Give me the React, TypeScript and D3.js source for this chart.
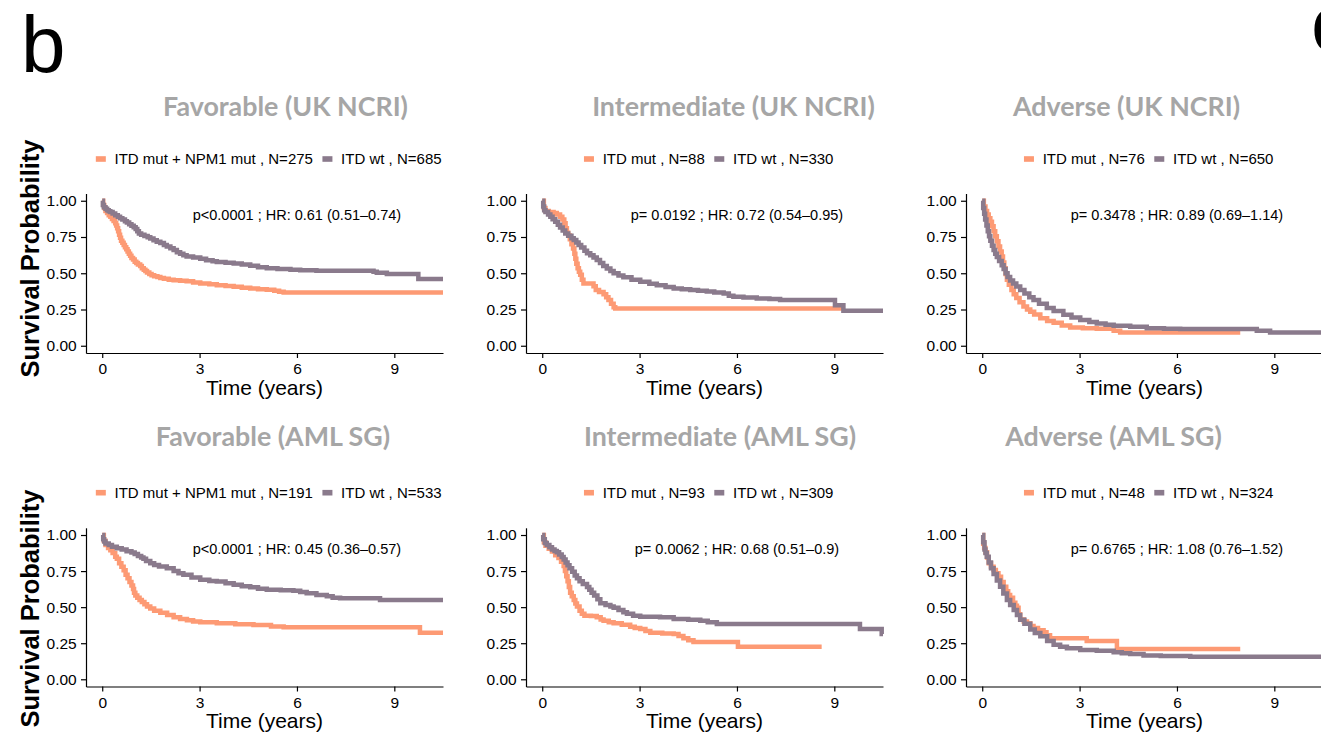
import React, { useEffect, useRef } from "react";
import * as d3 from "d3";

// ---------- data ----------
const panelTitles = [
  "Favorable (UK NCRI)",
  "Intermediate (UK NCRI)",
  "Adverse (UK NCRI)",
  "Favorable (AML SG)",
  "Intermediate (AML SG)",
  "Adverse (AML SG)",
];
const mutLabels = [
  "ITD mut + NPM1 mut , N=275",
  "ITD mut , N=88",
  "ITD mut , N=76",
  "ITD mut + NPM1 mut , N=191",
  "ITD mut , N=93",
  "ITD mut , N=48",
];
const wtLabels = [
  "ITD wt , N=685",
  "ITD wt , N=330",
  "ITD wt , N=650",
  "ITD wt , N=533",
  "ITD wt , N=309",
  "ITD wt , N=324",
];
const statLabels = [
  "p<0.0001 ; HR: 0.61 (0.51\u20130.74)",
  "p= 0.0192 ; HR: 0.72 (0.54\u20130.95)",
  "p= 0.3478 ; HR: 0.89 (0.69\u20131.14)",
  "p<0.0001 ; HR: 0.45 (0.36\u20130.57)",
  "p= 0.0062 ; HR: 0.68 (0.51\u20130.9)",
  "p= 0.6765 ; HR: 1.08 (0.76\u20131.52)",
];
const xTicks = [0, 3, 6, 9];
const yTicks = [0, 0.25, 0.5, 0.75, 1];
const xTitle = "Time (years)";
const yTitle = "Survival Probability";

// Kaplan-Meier curves: [time (years), survival probability]
const favUkMut: [number, number][] = [
  [0, 1], [0.03, 0.97], [0.06, 0.95], [0.1, 0.93], [0.15, 0.915], [0.2, 0.9], [0.25, 0.89],
  [0.3, 0.875], [0.35, 0.86], [0.4, 0.845], [0.43, 0.83], [0.46, 0.81], [0.49, 0.79],
  [0.52, 0.765], [0.55, 0.745], [0.58, 0.725], [0.62, 0.71], [0.66, 0.695], [0.7, 0.68],
  [0.74, 0.665], [0.78, 0.65], [0.82, 0.635], [0.86, 0.62], [0.9, 0.605], [0.95, 0.595],
  [1.0, 0.58], [1.05, 0.57], [1.1, 0.56], [1.17, 0.55], [1.22, 0.535], [1.28, 0.525],
  [1.33, 0.515], [1.38, 0.505], [1.45, 0.495], [1.52, 0.487], [1.6, 0.48], [1.7, 0.475],
  [1.79, 0.468], [1.9, 0.462], [2.05, 0.456], [2.2, 0.452], [2.4, 0.449], [2.6, 0.445],
  [2.8, 0.437], [3.02, 0.43], [3.3, 0.424], [3.53, 0.418], [3.8, 0.412], [4.05, 0.407],
  [4.3, 0.4], [4.56, 0.395], [4.8, 0.39], [5.07, 0.386], [5.3, 0.38], [5.45, 0.372],
  [5.59, 0.368], [10.5, 0.368],
];
const favUkWt: [number, number][] = [
  [0, 1], [0.02, 0.97], [0.05, 0.955], [0.1, 0.945], [0.15, 0.935], [0.2, 0.928],
  [0.25, 0.922], [0.32, 0.912], [0.4, 0.9], [0.48, 0.89], [0.55, 0.88], [0.62, 0.87],
  [0.7, 0.858], [0.76, 0.85], [0.83, 0.838], [0.9, 0.828], [0.97, 0.818], [1.03, 0.805],
  [1.08, 0.79], [1.13, 0.775], [1.2, 0.765], [1.3, 0.757], [1.4, 0.748], [1.48, 0.74],
  [1.58, 0.728], [1.68, 0.718], [1.79, 0.708], [1.9, 0.695], [1.99, 0.685], [2.1, 0.672],
  [2.2, 0.66], [2.3, 0.645], [2.4, 0.635], [2.5, 0.625], [2.6, 0.615], [2.8, 0.608],
  [3.02, 0.6], [3.2, 0.59], [3.4, 0.582], [3.53, 0.578], [3.8, 0.572], [4.05, 0.568],
  [4.3, 0.56], [4.56, 0.552], [4.8, 0.542], [5.07, 0.535], [5.4, 0.53], [5.8, 0.525],
  [6.1, 0.521], [6.6, 0.518], [7.13, 0.517], [8.25, 0.517], [8.36, 0.51], [8.46, 0.503],
  [8.77, 0.494], [9.69, 0.494], [9.74, 0.46], [10.5, 0.46],
];
const intUkMut: [number, number][] = [
  [0, 1], [0.05, 0.95], [0.1, 0.93], [0.2, 0.922], [0.35, 0.915], [0.45, 0.905],
  [0.55, 0.89], [0.62, 0.87], [0.68, 0.845], [0.72, 0.81], [0.76, 0.78], [0.8, 0.76],
  [0.85, 0.735], [0.9, 0.7], [0.95, 0.67], [0.99, 0.635], [1.02, 0.6], [1.05, 0.565],
  [1.09, 0.535], [1.13, 0.51], [1.17, 0.49], [1.22, 0.455], [1.27, 0.43], [1.5, 0.43],
  [1.58, 0.41], [1.65, 0.385], [1.75, 0.37], [1.89, 0.355], [1.97, 0.335], [2.04, 0.315],
  [2.12, 0.29], [2.2, 0.265], [2.25, 0.257], [9.33, 0.257],
];
const intUkWt: [number, number][] = [
  [0, 1], [0.03, 0.96], [0.06, 0.935], [0.1, 0.922], [0.18, 0.905], [0.25, 0.89],
  [0.32, 0.872], [0.4, 0.855], [0.48, 0.835], [0.55, 0.815], [0.63, 0.795], [0.71, 0.775],
  [0.8, 0.758], [0.9, 0.742], [0.97, 0.73], [1.05, 0.712], [1.12, 0.695], [1.2, 0.678],
  [1.3, 0.655], [1.38, 0.638], [1.48, 0.625], [1.58, 0.608], [1.68, 0.592], [1.78, 0.57],
  [1.88, 0.55], [1.99, 0.533], [2.1, 0.515], [2.2, 0.5], [2.35, 0.485], [2.5, 0.472],
  [2.75, 0.455], [3.02, 0.441], [3.3, 0.428], [3.53, 0.418], [3.8, 0.405], [4.05, 0.395],
  [4.3, 0.39], [4.56, 0.385], [4.8, 0.38], [5.07, 0.375], [5.3, 0.367], [5.59, 0.36],
  [5.75, 0.345], [5.89, 0.338], [6.2, 0.332], [6.61, 0.326], [7.0, 0.322], [7.33, 0.315],
  [8.97, 0.315], [9.02, 0.28], [9.28, 0.241], [10.5, 0.241],
];
const advUkMut: [number, number][] = [
  [0, 1], [0.05, 0.96], [0.1, 0.93], [0.15, 0.905], [0.2, 0.88], [0.25, 0.855], [0.3, 0.825],
  [0.35, 0.79], [0.4, 0.755], [0.45, 0.72], [0.5, 0.685], [0.55, 0.65], [0.6, 0.615],
  [0.64, 0.575], [0.68, 0.535], [0.72, 0.495], [0.76, 0.455], [0.82, 0.42], [0.9, 0.385],
  [0.97, 0.355], [1.05, 0.33], [1.15, 0.3], [1.27, 0.27], [1.38, 0.25], [1.48, 0.235],
  [1.6, 0.215], [1.79, 0.19], [2.0, 0.17], [2.2, 0.158], [2.45, 0.14], [2.71, 0.126],
  [3.1, 0.12], [3.53, 0.117], [4.05, 0.103], [4.25, 0.092], [7.95, 0.092],
];
const advUkWt: [number, number][] = [
  [0, 1], [0.03, 0.95], [0.06, 0.91], [0.09, 0.87], [0.13, 0.83], [0.17, 0.79], [0.21, 0.755],
  [0.25, 0.725], [0.3, 0.69], [0.35, 0.66], [0.4, 0.635], [0.45, 0.612], [0.52, 0.585],
  [0.6, 0.555], [0.66, 0.53], [0.72, 0.5], [0.78, 0.475], [0.86, 0.45], [0.95, 0.43],
  [1.05, 0.408], [1.17, 0.385], [1.3, 0.36], [1.45, 0.335], [1.58, 0.315], [1.75, 0.29],
  [1.99, 0.26], [2.2, 0.24], [2.5, 0.213], [2.75, 0.195], [3.02, 0.177], [3.3, 0.163],
  [3.53, 0.154], [3.8, 0.145], [4.05, 0.138], [4.56, 0.131], [5.07, 0.12], [5.6, 0.117],
  [6.1, 0.115], [8.15, 0.115], [8.46, 0.103], [8.87, 0.092], [10.5, 0.092],
];
const favAmlMut: [number, number][] = [
  [0, 1], [0.05, 0.96], [0.1, 0.93], [0.18, 0.91], [0.25, 0.895], [0.32, 0.875], [0.4, 0.85],
  [0.45, 0.835], [0.52, 0.805], [0.59, 0.78], [0.66, 0.755], [0.72, 0.725], [0.78, 0.7],
  [0.84, 0.675], [0.9, 0.65], [0.95, 0.625], [0.98, 0.6], [1.02, 0.58], [1.08, 0.565],
  [1.15, 0.55], [1.22, 0.535], [1.3, 0.52], [1.38, 0.505], [1.48, 0.49], [1.6, 0.475],
  [1.79, 0.462], [2.0, 0.445], [2.2, 0.43], [2.4, 0.418], [2.61, 0.41], [2.8, 0.4],
  [3.02, 0.395], [3.53, 0.388], [4.1, 0.382], [4.66, 0.376], [5.2, 0.366], [5.59, 0.36],
  [9.74, 0.36], [9.79, 0.323], [10.5, 0.323],
];
const favAmlWt: [number, number][] = [
  [0, 1], [0.03, 0.97], [0.06, 0.955], [0.1, 0.942], [0.2, 0.93], [0.3, 0.918], [0.45, 0.908],
  [0.6, 0.9], [0.75, 0.888], [0.9, 0.878], [1.0, 0.868], [1.1, 0.855], [1.2, 0.845],
  [1.27, 0.835], [1.35, 0.82], [1.48, 0.804], [1.6, 0.792], [1.75, 0.782], [1.99, 0.77],
  [2.2, 0.75], [2.35, 0.735], [2.5, 0.725], [2.75, 0.705], [3.02, 0.69], [3.3, 0.682],
  [3.53, 0.677], [3.8, 0.665], [4.05, 0.655], [4.3, 0.645], [4.56, 0.638], [4.8, 0.628],
  [5.07, 0.62], [5.5, 0.617], [5.89, 0.614], [6.1, 0.605], [6.3, 0.596], [6.6, 0.585],
  [6.92, 0.575], [7.1, 0.565], [7.33, 0.561], [8.15, 0.561], [8.56, 0.55], [10.5, 0.55],
];
const intAmlMut: [number, number][] = [
  [0, 1], [0.05, 0.95], [0.1, 0.925], [0.2, 0.905], [0.3, 0.885], [0.4, 0.86], [0.5, 0.84],
  [0.58, 0.815], [0.66, 0.785], [0.7, 0.75], [0.74, 0.715], [0.78, 0.68], [0.82, 0.64],
  [0.86, 0.6], [0.91, 0.575], [0.97, 0.55], [1.02, 0.525], [1.07, 0.505], [1.15, 0.475],
  [1.22, 0.455], [1.3, 0.44], [1.5, 0.438], [1.68, 0.43], [1.8, 0.415], [1.89, 0.405],
  [2.05, 0.395], [2.2, 0.388], [2.45, 0.378], [2.71, 0.365], [2.85, 0.355], [3.02, 0.349],
  [3.18, 0.335], [3.33, 0.323], [3.7, 0.318], [4.05, 0.314], [4.2, 0.3], [4.35, 0.284],
  [4.5, 0.27], [4.66, 0.259], [6.0, 0.259], [6.03, 0.226], [8.61, 0.226],
];
const intAmlWt: [number, number][] = [
  [0, 1], [0.03, 0.97], [0.08, 0.945], [0.14, 0.93], [0.22, 0.915], [0.3, 0.9], [0.38, 0.89],
  [0.45, 0.88], [0.52, 0.865], [0.6, 0.848], [0.66, 0.83], [0.72, 0.81], [0.78, 0.79],
  [0.84, 0.77], [0.92, 0.745], [1.0, 0.72], [1.07, 0.7], [1.15, 0.68], [1.25, 0.66],
  [1.38, 0.64], [1.45, 0.62], [1.52, 0.6], [1.6, 0.58], [1.7, 0.555], [1.79, 0.527],
  [1.95, 0.515], [2.1, 0.505], [2.2, 0.495], [2.35, 0.48], [2.5, 0.465], [2.61, 0.455],
  [2.8, 0.44], [3.02, 0.434], [3.63, 0.43], [4.05, 0.418], [4.5, 0.413], [4.87, 0.406],
  [5.1, 0.395], [5.38, 0.383], [9.69, 0.383], [9.79, 0.349], [10.41, 0.349], [10.46, 0.314],
  [10.5, 0.314],
];
const advAmlMut: [number, number][] = [
  [0, 1], [0.03, 0.94], [0.06, 0.91], [0.1, 0.88], [0.15, 0.845], [0.2, 0.805], [0.27, 0.78],
  [0.35, 0.757], [0.42, 0.735], [0.5, 0.71], [0.58, 0.675], [0.66, 0.642], [0.74, 0.61],
  [0.8, 0.585], [0.86, 0.565], [0.95, 0.53], [1.02, 0.51], [1.07, 0.495], [1.12, 0.45],
  [1.17, 0.415], [1.28, 0.4], [1.38, 0.388], [1.48, 0.37], [1.58, 0.355], [1.72, 0.34],
  [1.89, 0.326], [1.98, 0.305], [2.09, 0.284], [3.12, 0.284], [3.22, 0.266], [4.05, 0.266],
  [4.15, 0.21], [7.95, 0.21],
];
const advAmlWt: [number, number][] = [
  [0, 1], [0.03, 0.95], [0.07, 0.9], [0.1, 0.875], [0.14, 0.85], [0.2, 0.81], [0.27, 0.77],
  [0.35, 0.73], [0.45, 0.685], [0.55, 0.642], [0.65, 0.595], [0.76, 0.55], [0.86, 0.515],
  [0.97, 0.48], [1.07, 0.445], [1.17, 0.412], [1.3, 0.385], [1.48, 0.345], [1.62, 0.32],
  [1.79, 0.298], [2.0, 0.265], [2.2, 0.24], [2.4, 0.225], [2.61, 0.215], [3.02, 0.203],
  [3.53, 0.198], [4.05, 0.188], [4.3, 0.18], [4.56, 0.176], [4.97, 0.165], [5.5, 0.162],
  [6.41, 0.157], [10.5, 0.157],
];

const mutCurves = [favUkMut, intUkMut, advUkMut, favAmlMut, intAmlMut, advAmlMut];
const wtCurves = [favUkWt, intUkWt, advUkWt, favAmlWt, intAmlWt, advAmlWt];

// ---------- layout / style ----------
const W = 1321;
const H = 734;
const COL_X = [0, 440, 880];
const ROWS = [
  { top: 193.5, bottom: 353, titleY: 116, legendY: 159, xLabelY: 395, yTitleY: 258.5 },
  { top: 527.8, bottom: 686.5, titleY: 446, legendY: 492.7, xLabelY: 728, yTitleY: 608.5 },
];
const TITLE_X = [285.5, 733.5, 1126.5, 273, 720, 1113.5];
const PLOT_L = 86;
const PLOT_R = 443;
const LEGEND_CX = 268.7;
const MUT_COLOR = "#FD9A74";
const WT_COLOR = "#8A7A8C";
const FONT = "'Liberation Sans', Arial, Helvetica, sans-serif";
const TITLE_FONT = "Lato, 'Open Sans', sans-serif";

export default function App() {
  const ref = useRef<SVGSVGElement | null>(null);

  useEffect(() => {
    document.body.style.margin = "0";
    const svg = d3.select(ref.current);
    svg.selectAll("*").remove();

    svg.append("rect").attr("width", W).attr("height", H).attr("fill", "#fff");

    // panel letters
    svg.append("text").attr("x", 21).attr("y", 72).attr("font-family", FONT)
      .attr("font-size", 80).attr("fill", "#000").text("b");
    svg.append("text").attr("x", 1311).attr("y", 51).attr("font-family", FONT)
      .attr("font-size", 80).attr("fill", "#000").text("c");

    panelTitles.forEach((title, i) => {
      const row = Math.floor(i / 3);
      const col = i % 3;
      const ox = COL_X[col];
      const R = ROWS[row];
      const x = d3.scaleLinear().domain([-0.5, 10.5]).range([ox + PLOT_L, ox + PLOT_R]);
      const y = d3.scaleLinear().domain([-0.05, 1.05]).range([R.bottom, R.top]);
      const g = svg.append("g");

      // title
      g.append("text").attr("x", TITLE_X[i]).attr("y", R.titleY)
        .attr("text-anchor", "middle").attr("font-family", TITLE_FONT)
        .attr("font-weight", 700).attr("font-size", 26.8).attr("fill", "#A6A6A6")
        .text(title);

      // legend
      const lg = g.append("g");
      const items = [
        { label: mutLabels[i], color: MUT_COLOR },
        { label: wtLabels[i], color: WT_COLOR },
      ];
      let cx = 0;
      items.forEach((it, k) => {
        if (k > 0) cx += 9.5;
        lg.append("rect").attr("x", cx).attr("y", R.legendY - 2.8).attr("width", 10)
          .attr("height", 5.6).attr("fill", it.color);
        cx += 10 + 8.7;
        const t = lg.append("text").attr("x", cx).attr("y", R.legendY)
          .attr("dy", "0.35em").attr("font-family", FONT).attr("font-size", 15)
          .attr("fill", "#000").text(it.label);
        const node = t.node() as SVGTextElement;
        cx += node.getComputedTextLength();
      });
      lg.attr("transform", `translate(${ox + LEGEND_CX - cx / 2},0)`);

      // axes
      const ya = g.append("g").attr("transform", `translate(${ox + PLOT_L},0)`)
        .call(d3.axisLeft(y).tickValues(yTicks).tickFormat(d3.format(".2f"))
          .tickSize(5).tickSizeOuter(0).tickPadding(4.3));
      const xa = g.append("g").attr("transform", `translate(0,${R.bottom})`)
        .call(d3.axisBottom(x).tickValues(xTicks).tickFormat(d3.format("d"))
          .tickSize(5).tickSizeOuter(0).tickPadding(5));
      [ya, xa].forEach((a) => {
        a.selectAll("path").attr("stroke", "#000").attr("stroke-width", 1.2);
        a.selectAll("line").attr("stroke", "#000").attr("stroke-width", 1.2);
        a.selectAll("text").attr("font-family", FONT).attr("font-size", 15.5).attr("fill", "#000");
      });

      // x title
      g.append("text").attr("x", ox + (PLOT_L + PLOT_R) / 2).attr("y", R.xLabelY)
        .attr("text-anchor", "middle").attr("font-family", FONT).attr("font-size", 21)
        .attr("fill", "#000").text(xTitle);

      // y title (left column only)
      if (col === 0) {
        g.append("text")
          .attr("transform", `translate(38.5,${R.yTitleY}) rotate(-90)`)
          .attr("text-anchor", "middle").attr("font-family", FONT)
          .attr("font-weight", 700).attr("font-size", 25.5).attr("fill", "#000")
          .text(yTitle);
      }

      // curves
      const line = d3.line<[number, number]>()
        .x((d) => x(d[0])).y((d) => y(d[1])).curve(d3.curveStepAfter);
      g.append("path").attr("d", line(mutCurves[i]) as string).attr("fill", "none")
        .attr("stroke", MUT_COLOR).attr("stroke-width", 4.5);
      g.append("path").attr("d", line(wtCurves[i]) as string).attr("fill", "none")
        .attr("stroke", WT_COLOR).attr("stroke-width", 4.5);

      // stats annotation
      g.append("text").attr("x", x(6)).attr("y", y(0.865)).attr("text-anchor", "middle")
        .attr("font-family", FONT).attr("font-size", 14.5).attr("fill", "#000")
        .text(statLabels[i]);
    });
  }, []);

  return (
    <svg ref={ref} width={W} height={H} style={{ display: "block" }} />
  );
}
